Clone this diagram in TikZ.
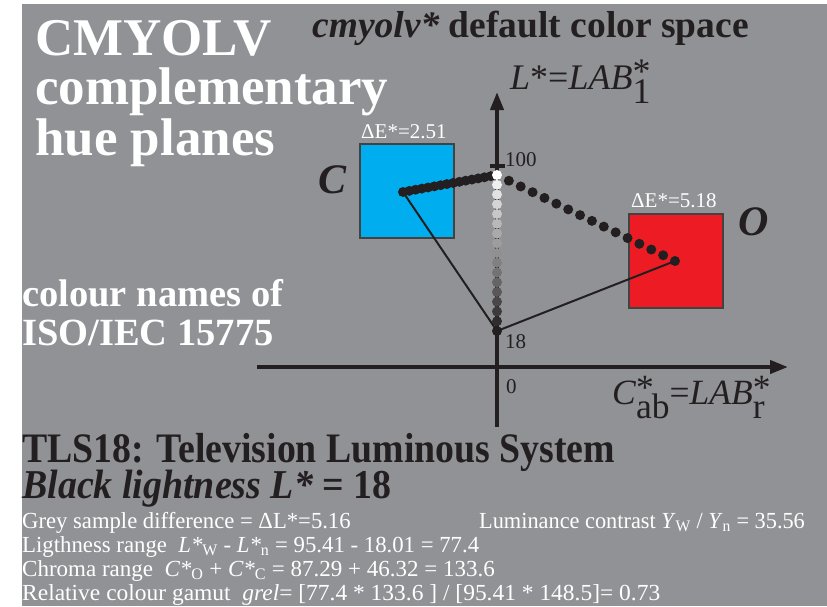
\documentclass[tikz,border=0pt]{standalone}
\usepackage{fontspec}
\setmainfont{Liberation Serif}
\usetikzlibrary{arrows.meta, calc}

\definecolor{panelgrey}{RGB}{145,146,150}
\definecolor{cyanC}{RGB}{0,174,239}
\definecolor{redO}{RGB}{237,28,36}
\definecolor{ink}{RGB}{35,31,32}

\newcommand{\fsz}[1]{\fontsize{#1}{#1}\selectfont}
\newcommand{\supsub}[2]{\rlap{\raisebox{0.14em}{#1}}\raisebox{-0.40em}{#2}}
\newcommand{\narrow}[2]{\scalebox{#1}[1]{#2}}

\begin{document}
\begin{tikzpicture}[x=1pt, y=-1pt,
    axis/.style={line width=4pt, draw=ink},
    link/.style={line width=2pt, draw=ink},
    patch/.style={draw=ink!85, line width=2pt, minimum width=94pt, minimum height=94pt, anchor=north west, inner sep=0pt},
    lbl/.style={anchor=base west, inner sep=0pt},
    head/.style={lbl, font=\bfseries\fsz{53}, text=white},
    small/.style={lbl, font=\fsz{23}, text=white},
    tip/.style={-{Triangle[length=18pt,width=13pt]}}
]
    \useasboundingbox (0,0) rectangle (827,606);
    \fill[panelgrey] (22,4) rectangle (827,606);

    % titles
    \node[head] (cmyolv) at (35,55) {CMYOLV};
    \node[head] (compl) at (35,104) {complementary};
    \node[head] (hue) at (35,155) {hue planes};
    \node[lbl, font=\bfseries\fsz{37.5}, text=ink] (space) at (312,37) {\textit{cmyolv*} default color space};
    \node[lbl, font=\bfseries\fsz{38.5}, text=white] (names) at (22,306) {colour names of};
    \node[lbl, font=\bfseries\fsz{38.5}, text=white] (iso) at (22,345) {ISO/IEC 15775};

    % axes
    \coordinate (ybot) at (497,427);
    \coordinate (ytop) at (497,92);
    \coordinate (xleft) at (257,367);
    \coordinate (xright) at (788,367);
    \draw[axis, tip] (ybot) -- (ytop);
    \draw[axis, tip] (xleft) -- (xright);
    \draw[axis] (490,166) -- (505,166);
    \node[lbl, font=\itshape\fsz{36}, text=ink] (lstar) at (510,89) {L\upshape*=\itshape LAB\upshape\supsub{*}{1}};
    \node[lbl, font=\fsz{35.5}, text=ink] (cstar) at (612,404) {\textit{C}\supsub{*}{ab}=\textit{LAB}\supsub{*}{r}};
    \node[lbl, font=\fsz{21}, text=ink] (l100) at (505,166) {100};
    \node[lbl, font=\fsz{21}, text=ink] (l18) at (505,348) {18};
    \node[lbl, font=\fsz{21}, text=ink] (l0) at (506,393) {0};

    % colour samples
    \node[patch, fill=cyanC] (boxC) at (359,143) {};
    \node[patch, fill=redO] (boxO) at (628,213) {};
    \node[lbl, font=\fsz{21}, text=white] (deC) at (361,138) {ΔE*=2.51};
    \node[lbl, font=\fsz{21}, text=white] (deO) at (631,207) {ΔE*=5.18};
    \node[lbl, font=\bfseries\itshape\fsz{42}, text=ink] (nameC) at (318,193) {C};
    \node[lbl, font=\bfseries\itshape\fsz{42}, text=ink] (nameO) at (738,235) {O};

    % hue plane points
    \coordinate (pC) at (403,192);
    \coordinate (pO) at (675,261);
    \coordinate (pW) at (497,175);
    \coordinate (pN) at (497,331);
    \draw[link] (pC) -- (pN);
    \draw[link] (pO) -- (pN);
    \foreach \k in {1,...,15} {
        \fill[ink] ($(pW)!\k/15!(pC)$) circle (5pt);
        \fill[ink] ($(pW)!\k/15!(pO)$) circle (5pt);
    }
    \foreach \k in {0,...,16} {
        \pgfmathtruncatemacro\w{100-\k*100/16}
        \fill[white!\w!ink] ($(pW)!\k/16!(pN)$) circle (5pt);
    }

    % system data
    \node[lbl, font=\bfseries\fsz{42}, text=ink] (tls) at (22,462) {\narrow{0.9}{TLS18: Television Luminous System}};
    \node[lbl, font=\bfseries\fsz{41}, text=ink] (black) at (22,498) {\narrow{0.925}{\textit{Black lightness L*} = 18}};
    \node[small] (grey) at (22,528) {\narrow{0.985}{Grey sample difference = ΔL*=5.16}};
    \node[small] (lum) at (479,528) {\narrow{0.97}{Luminance contrast \textit{Y}\textsubscript{W} / \textit{Y}\textsubscript{n} = 35.56}};
    \node[small] (light) at (22,552) {\narrow{0.99}{Ligthness range \ \textit{L*}\textsubscript{W} - \textit{L*}\textsubscript{n} = 95.41 - 18.01 = 77.4}};
    \node[small] (chroma) at (22,576) {\narrow{1.0}{Chroma range \ \textit{C*}\textsubscript{O} + \textit{C*}\textsubscript{C} = 87.29 + 46.32 = 133.6}};
    \node[small] (gamut) at (22,600) {\narrow{1.02}{Relative colour gamut \ \textit{grel}= [77.4 * 133.6 ] / [95.41 * 148.5]= 0.73}};
\end{tikzpicture}
\end{document}
